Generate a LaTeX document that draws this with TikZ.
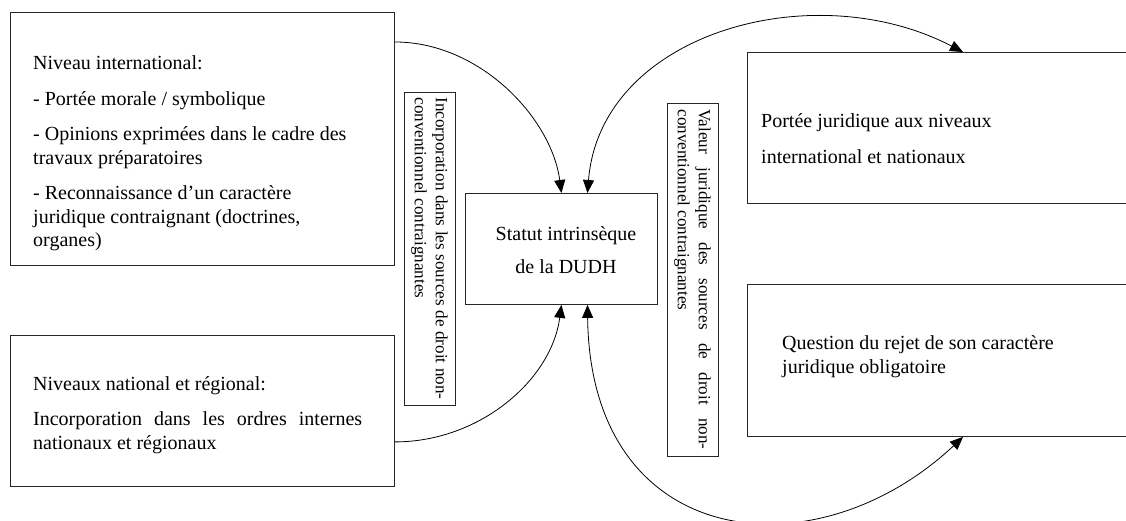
\documentclass[tikz,border=0pt]{standalone}
\usepackage{fontspec}
\setmainfont{Liberation Serif}
\usetikzlibrary{arrows.meta}

\begin{document}
\begin{tikzpicture}[x=1pt, y=-1pt]
    % --- Styles ---
    \tikzstyle{level_box}=[draw=black!85, line width=0.9pt, anchor=north west, inner sep=0pt]
    \tikzstyle{box_text}=[anchor=base west, inner sep=0pt, align=left, font=\fontsize{20}{23.5}\selectfont]
    \tikzstyle{source_label}=[
        draw=black!85, 
        line width=0.9pt, 
        rotate=-90, 
        inner sep=0pt, 
        align=justify, 
        font=\fontsize{17.1}{21}\selectfont
    ]
    \tikzstyle{link_arrow}=[-{Triangle[length=13pt, width=11pt]}, line width=0.8pt]
    \tikzstyle{both_arrow}=[{Triangle[length=13pt, width=11pt]}-{Triangle[length=13pt, width=11pt]}, line width=0.8pt]

    % --- Frame ---
    \useasboundingbox (0,0) rectangle (1126,521);
    \clip (0,0) rectangle (1126,521);

    % --- 1. The boxes ---
    \node[level_box, minimum width=384pt, minimum height=253pt] (intl) at (10,12) {};
    \node[level_box, minimum width=384pt, minimum height=151pt] (national) at (10,335) {};
    \node[level_box, minimum width=192pt, minimum height=111pt] (statut) at (465,193) {};
    \node[level_box, minimum width=403pt, minimum height=151pt] (portee) at (747,52) {};
    \node[level_box, minimum width=403pt, minimum height=152pt] (rejet) at (747,284) {};

    % --- 2. The texts (placed at the baseline of their last line) ---
    \node[box_text] (intl_text) at (33,247) {
        Niveau international:\\[12pt]
        - Portée morale / symbolique\\[12pt]
        - Opinions exprimées dans le cadre des\\travaux préparatoires\\[12pt]
        - Reconnaissance d’un caractère\\juridique contraignant (doctrines,\\organes)
    };
    % (a text width node sits on its first line)
    \node[box_text, text width=329pt, align=justify] (national_text) at (33,390) {
        Niveaux national et régional:\\[12pt]
        Incorporation dans les ordres internes\linebreak nationaux et régionaux
    };
    \node[box_text, anchor=base, align=center] (statut_text) at (566,273) {
        Statut intrinsèque\\[9.5pt]de la DUDH
    };
    \node[box_text] (portee_text) at (761,164) {
        Portée juridique aux niveaux\\[12.5pt]international et nationaux
    };
    \node[box_text] (rejet_text) at (782,373) {
        Question du rejet de son caractère\\juridique obligatoire
    };

    % --- 3. The vertical labels ---
    \node[source_label, minimum width=313pt, minimum height=51pt, text width=302pt] (sources_intl) at (429.5,248.5) {
        Incorporation dans les sources de droit non-\linebreak conventionnel contraignantes
    };
    \node[source_label, minimum width=353pt, minimum height=51pt, text width=340pt] (sources_val) at (692.5,279.5) {
        Valeur juridique des sources de droit non-\linebreak conventionnel contraignantes
    };

    % --- 4. The arrows ---
    \draw[link_arrow] ([yshift=-30pt]intl.north east) .. controls +(85,0) and +(-10,-75) .. (statut.north);
    \draw[both_arrow] ([xshift=26pt]statut.north) .. controls +(13,-160) and +(-150,-78) .. ([xshift=216pt]portee.north west);
    \draw[link_arrow] ([yshift=45pt]national.south east) .. controls +(85,0) and +(-10,75) .. (statut.south);
    \draw[both_arrow] ([xshift=26pt]statut.south) .. controls +(3,246) and +(-148,139) .. ([xshift=216pt]rejet.south west);

\end{tikzpicture}
\end{document}
